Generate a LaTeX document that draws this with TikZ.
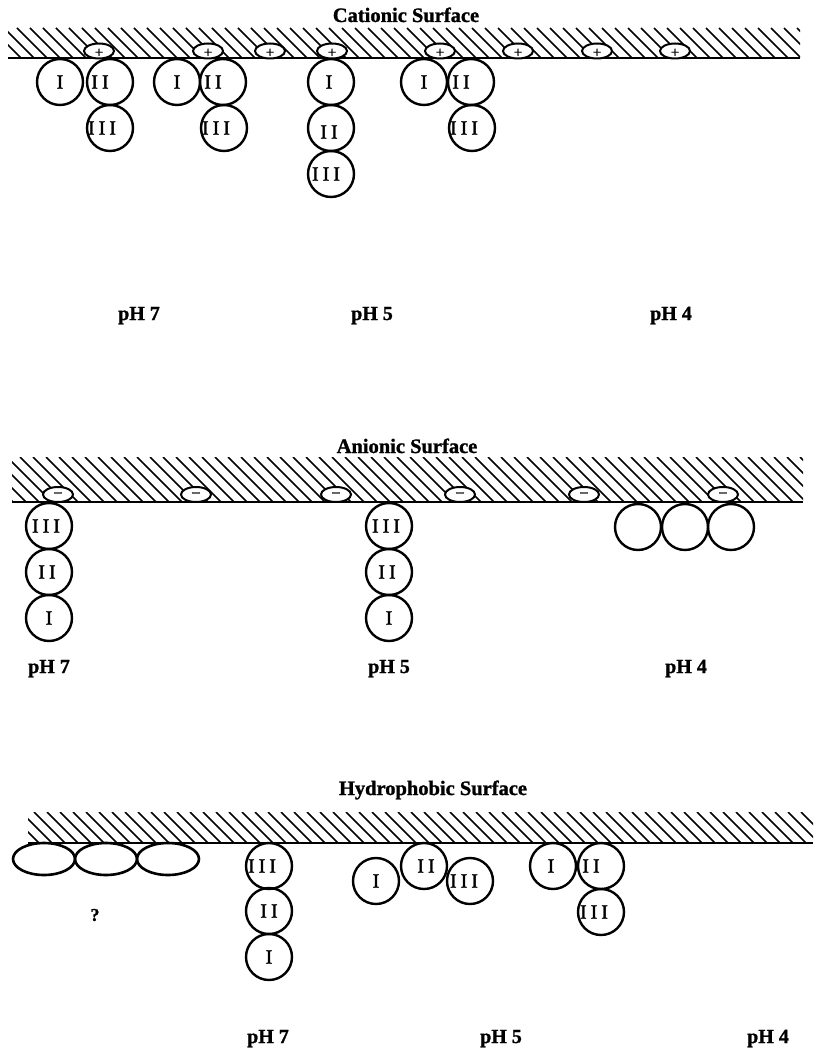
\documentclass[tikz,border=0pt]{standalone}
\usepackage{fontspec}
\setmainfont{Liberation Serif}
\newfontfamily\lblfont[FakeBold=1.6]{Liberation Serif}
\newfontfamily\headfont[FakeBold=1.2]{Liberation Serif Bold}
\usetikzlibrary{shapes.geometric}
\tikzset{
  mol/.style={circle, draw, line width=2.4pt, minimum size=46pt, inner sep=0pt},
  lbl/.style={font=\fontsize{20}{20}\lblfont, inner sep=0pt},
  chg/.style={ellipse, draw, fill=white, line width=2pt, minimum width=30pt, minimum height=15pt, inner sep=0pt, font=\fontsize{15}{15}\lblfont},
  flat/.style={ellipse, draw, line width=2.6pt, minimum width=62pt, minimum height=32pt, inner sep=0pt},
  title/.style={font=\fontsize{20.5}{20.5}\headfont, anchor=base, inner sep=0pt},
  ph/.style={font=\fontsize{20}{20}\headfont, anchor=base, inner sep=0pt},
  hatch/.style={line width=1.6pt},
  base/.style={line width=2.2pt}
}
\newcommand{\rI}{I}
\newcommand{\rII}{I\kern4pt I}
\newcommand{\rIII}{I\kern4pt I\kern4pt I}
\begin{document}
\begin{tikzpicture}[x=1pt,y=-1pt]
\useasboundingbox (0,0) rectangle (813,1048);
% ===== Cationic =====
\node[title] (t1) at (406,22) {Cationic Surface};
\begin{scope}
  \clip (8,28) rectangle (800,58);
  \foreach \x in {-35,-22,...,800} \draw[hatch] (\x,28) -- ++(30,30);
\end{scope}
\coordinate (b1l) at (8,58);
\coordinate (b1r) at (800,58);
\draw[base] (b1l) -- (b1r);
\foreach \x/\n in {99/1,208/2,270/3,332/4,440/5,518/6,597/7,675/8}
  \node[chg, label={[font=\fontsize{15}{15}\lblfont,yshift=-2pt]center:+}] (p\n) at (\x,51) {};
% pH7
\node[mol, label={[lbl]center:\rI}] (a1) at (60,82) {};
\node[mol, label={[lbl,xshift=-10pt]center:\rII}] (a2) at (110,82) {};
\node[mol, label={[lbl,xshift=-8pt]center:\rIII}] (a3) at (110,128) {};
\node[mol, label={[lbl]center:\rI}] (b1) at (177,82) {};
\node[mol, label={[lbl,xshift=-10pt]center:\rII}] (b2) at (223,82) {};
\node[mol, label={[lbl,xshift=-8pt]center:\rIII}] (b3) at (224,128) {};
% pH5
\node[mol, label={[lbl,xshift=-2pt]center:\rI}] (c1) at (331,82) {};
\node[mol, label={[lbl,xshift=-2pt,yshift=-4pt]center:\rII}] (c2) at (331,128) {};
\node[mol, label={[lbl,xshift=-5pt]center:\rIII}] (c3) at (331,174) {};
% pH4
\node[mol, label={[lbl]center:\rI}] (d1) at (424,82) {};
\node[mol, label={[lbl,xshift=-10pt]center:\rII}] (d2) at (471,82) {};
\node[mol, label={[lbl,xshift=-8pt]center:\rIII}] (d3) at (472,128) {};
\node[ph] (ph17) at (139,320) {pH 7};
\node[ph] (ph15) at (372,320) {pH 5};
\node[ph] (ph14) at (671,320) {pH 4};
% ===== Anionic =====
\node[title] (t2) at (407,453) {Anionic Surface};
\begin{scope}
  \clip (12,457) rectangle (803,502);
  \foreach \x in {-45,-32,...,803} \draw[hatch] (\x,457) -- ++(45,45);
\end{scope}
\coordinate (b2l) at (12,502);
\coordinate (b2r) at (803,502);
\draw[base] (b2l) -- (b2r);
\foreach \x/\n in {58/1,196/2,336/3,460/4,584/5,723/6}
  \node[chg] (m\n) at (\x,494.5) {\textendash};
\node[mol, label={[lbl,xshift=-3pt]center:\rIII}] (e3) at (49,526) {};
\node[mol, label={[lbl,xshift=-2pt]center:\rII}] (e2) at (49,572) {};
\node[mol, label={[lbl]center:\rI}] (e1) at (49,618) {};
\node[mol, label={[lbl,xshift=-3pt]center:\rIII}] (f3) at (389,526) {};
\node[mol, label={[lbl,xshift=-2pt]center:\rII}] (f2) at (389,572) {};
\node[mol, label={[lbl]center:\rI}] (f1) at (389,618) {};
\node[mol] (g1) at (638,527) {};
\node[mol] (g2) at (685,527) {};
\node[mol] (g3) at (731,527) {};
\node[ph] (ph27) at (49,673) {pH 7};
\node[ph] (ph25) at (389,673) {pH 5};
\node[ph] (ph24) at (686,673) {pH 4};
% ===== Hydrophobic =====
\node[title] (t3) at (433,795) {Hydrophobic Surface};
\begin{scope}
  \clip (28,812) rectangle (813,843);
  \foreach \x in {-5,8,...,813} \draw[hatch] (\x,812) -- ++(31,31);
\end{scope}
\coordinate (b3l) at (28,843);
\coordinate (b3r) at (813,843);
\draw[base] (b3l) -- (b3r);
\node[flat] (h1) at (44,859) {};
\node[flat] (h2) at (106,859) {};
\node[flat] (h3) at (168,859) {};
\node[font=\fontsize{18}{18}\headfont] (q) at (95,915) {?};
\node[mol, label={[lbl,xshift=-7pt]center:\rIII}] (k3) at (269,866) {};
\node[mol, label={[lbl]center:\rII}] (k2) at (269,911) {};
\node[mol, label={[lbl]center:\rI}] (k1) at (269,957) {};
\node[mol, label={[lbl]center:\rI}] (l1) at (376,881) {};
\node[mol, label={[lbl,xshift=2pt]center:\rII}] (l2) at (424,866) {};
\node[mol, label={[lbl,xshift=-6pt]center:\rIII}] (l3) at (470,881) {};
\node[mol, label={[lbl,xshift=-2pt]center:\rI}] (n1) at (553,866) {};
\node[mol, label={[lbl,xshift=-10pt]center:\rII}] (n2) at (601,866) {};
\node[mol, label={[lbl,xshift=-7pt]center:\rIII}] (n3) at (601,912) {};
\node[ph] (ph37) at (268,1043) {pH 7};
\node[ph] (ph35) at (501,1043) {pH 5};
\node[ph] (ph34) at (768,1043) {pH 4};
\end{tikzpicture}
\end{document}
